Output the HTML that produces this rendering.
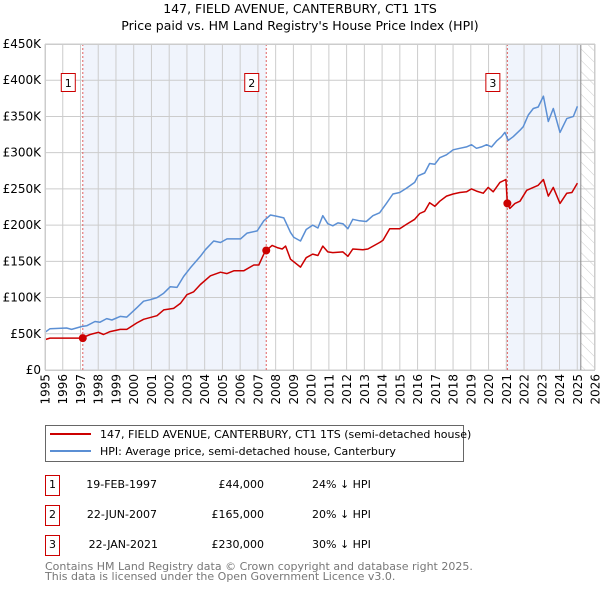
<!DOCTYPE html>
<html><head><meta charset="utf-8"><style>
body{margin:0;background:#fff;font-family:"DejaVu Sans","Liberation Sans",sans-serif;}
svg{display:block}
</style></head><body>
<svg id="chart" width="600" height="590" xmlns="http://www.w3.org/2000/svg" font-family="DejaVu Sans, Liberation Sans, sans-serif">
<defs><pattern id="hatch" width="8" height="8" patternUnits="userSpaceOnUse" patternTransform="rotate(-45)"><line x1="0" y1="0" x2="0" y2="8" stroke="#ccc" stroke-width="1"/></pattern></defs>
<text x="300" y="13" text-anchor="middle" font-size="12.5" fill="#000">147, FIELD AVENUE, CANTERBURY, CT1 1TS</text>
<text x="300" y="30" text-anchor="middle" font-size="12.5" fill="#000">Price paid vs. HM Land Registry's House Price Index (HPI)</text>
<g id="plot"></g>
<g>
<rect x="45.5" y="425.5" width="418" height="36" fill="#fff" stroke="#666"/>
<line x1="50" y1="434" x2="91" y2="434" stroke="#cc0000" stroke-width="2"/>
<text x="100" y="438" font-size="11">147, FIELD AVENUE, CANTERBURY, CT1 1TS (semi-detached house)</text>
<line x1="50" y1="451" x2="91" y2="451" stroke="#5b8fd4" stroke-width="2"/>
<text x="100" y="455" font-size="11">HPI: Average price, semi-detached house, Canterbury</text>
</g>
<g font-size="11">
<rect x="45.5" y="475.5" width="14" height="20" fill="#fff" stroke="#cc0000"/><text x="52.5" y="488" text-anchor="middle">1</text>
<text x="157" y="488" text-anchor="end">19-FEB-1997</text><text x="264" y="488" text-anchor="end">£44,000</text><text x="312" y="488">24% ↓ HPI</text>
<rect x="45.5" y="505.5" width="14" height="20" fill="#fff" stroke="#cc0000"/><text x="52.5" y="518" text-anchor="middle">2</text>
<text x="157" y="518" text-anchor="end">22-JUN-2007</text><text x="264" y="518" text-anchor="end">£165,000</text><text x="312" y="518">20% ↓ HPI</text>
<rect x="45.5" y="535.5" width="14" height="20" fill="#fff" stroke="#cc0000"/><text x="52.5" y="548" text-anchor="middle">3</text>
<text x="158" y="548" text-anchor="end">22-JAN-2021</text><text x="264" y="548" text-anchor="end">£230,000</text><text x="312" y="548">30% ↓ HPI</text>
</g>
<text x="45" y="570" font-size="11" fill="#777">Contains HM Land Registry data © Crown copyright and database right 2025.</text>
<text x="45" y="580" font-size="11" fill="#777">This data is licensed under the Open Government Licence v3.0.</text>
</svg>
<script>
const hpiYears=[1995.0,1995.28,1996.22,1996.5,1997.07,1997.35,1997.82,1998.1,1998.48,1998.77,1999.24,1999.61,2000.18,2000.56,2000.93,2001.31,2001.69,2002.06,2002.44,2002.81,2003.19,2003.76,2004.04,2004.51,2004.89,2005.26,2006.02,2006.39,2006.96,2007.33,2007.71,2008.09,2008.46,2008.84,2009.03,2009.4,2009.72,2010.09,2010.38,2010.66,2010.94,2011.22,2011.51,2011.79,2012.07,2012.35,2012.73,2013.11,2013.48,2013.86,2014.24,2014.61,2014.99,2015.37,2015.84,2016.03,2016.4,2016.68,2016.97,2017.25,2017.63,2018.0,2018.38,2018.76,2019.04,2019.32,2019.6,2019.89,2020.17,2020.45,2020.73,2020.92,2021.11,2021.39,2021.77,2021.96,2022.24,2022.52,2022.8,2023.09,2023.37,2023.65,2024.03,2024.41,2024.78,2025.01];
const hpiValues=[52,57,58,56,60,61,67,66,71,69,74,73,86,95,97,100,106,115,114,129,141,157,166,178,176,181,181,189,192,206,214,212,210,190,183,178,194,200,196,213,202,199,203,202,195,208,206,205,213,217,230,243,245,251,259,268,272,285,284,293,297,304,306,308,311,306,308,311,308,316,322,328,317,322,331,336,352,361,363,378,343,361,328,347,350,364];
const ppYears=[1995.0,1995.28,1997.07,1997.54,1998.01,1998.3,1998.67,1999.24,1999.61,2000.18,2000.56,2001.31,2001.69,2002.25,2002.63,2003.0,2003.38,2003.76,2004.32,2004.89,2005.26,2005.64,2006.2,2006.77,2007.05,2007.33,2007.52,2007.8,2008.09,2008.37,2008.56,2008.84,2009.4,2009.72,2010.09,2010.38,2010.66,2010.94,2011.22,2011.79,2012.07,2012.35,2012.92,2013.2,2013.86,2014.05,2014.43,2014.99,2015.37,2015.84,2016.12,2016.4,2016.68,2016.97,2017.25,2017.63,2018.0,2018.38,2018.76,2019.04,2019.32,2019.7,2019.98,2020.26,2020.64,2020.98,2021.06,2021.2,2021.49,2021.77,2022.15,2022.52,2022.8,2023.09,2023.37,2023.65,2024.03,2024.41,2024.7,2025.01];
const ppValues=[42,44,44,49,52,49,53,56,56,65,70,75,83,85,92,104,108,118,130,135,133,137,137,145,145,160,166,172,169,167,171,153,142,155,160,158,171,163,162,163,157,167,166,167,176,179,195,195,201,208,216,219,231,226,233,240,243,245,246,250,247,244,252,246,259,263,230,223,230,233,248,252,255,263,240,252,230,244,245,258];
const saleYears=[1997.13,2007.47,2021.06];
const saleValues=[44,165,230];
const saleLabels=["1","2","3"];
const yTicks=[0,50,100,150,200,250,300,350,400,450];
const yTickLabels=["£0","£50K","£100K","£150K","£200K","£250K","£300K","£350K","£400K","£450K"];
const xTicks=[1995,1996,1997,1998,1999,2000,2001,2002,2003,2004,2005,2006,2007,2008,2009,2010,2011,2012,2013,2014,2015,2016,2017,2018,2019,2020,2021,2022,2023,2024,2025,2026];
const dataEnd=2025.2;

const X0=45,X1=595,Y0=370,Y1=44;
const xs=y=>X0+(y-1995)/(2026-1995)*(X1-X0);
const ys=v=>Y0-v/450*(Y0-Y1);
const NS="http://www.w3.org/2000/svg";
const g=document.getElementById('plot');
function mk(t,a){const e=document.createElementNS(NS,t);for(const k in a)e.setAttribute(k,a[k]);g.appendChild(e);return e;}

let e;
e=mk('rect',{x:xs(saleYears[0]),y:Y1,width:xs(saleYears[1])-xs(saleYears[0]),height:Y0-Y1,fill:'#f0f4fc'});


e=mk('rect',{x:xs(saleYears[2]),y:Y1,width:xs(dataEnd)-xs(saleYears[2]),height:Y0-Y1,fill:'#f0f4fc'});


e=mk('rect',{x:xs(dataEnd),y:Y1,width:X1-xs(dataEnd),height:Y0-Y1,fill:'url(#hatch)'});



yTicks.forEach((v,i)=>{
 e=mk('line',{x1:X0,x2:X1,y1:ys(v),y2:ys(v),stroke:'#ccc','stroke-width':1});
 
 
 e=mk('text',{x:X0-4,y:ys(v)+4,'text-anchor':'end','font-size':12});
 e.textContent=yTickLabels[i];
 
 
});
xTicks.forEach(t=>{
 e=mk('line',{x1:xs(t),x2:xs(t),y1:Y1,y2:Y0,stroke:'#ccc','stroke-width':1});
 
 
 const tx=xs(t)+4.5, ty=374;
 e=mk('text',{x:tx,y:ty,'text-anchor':'end','font-size':12,transform:'rotate(-90 '+tx+' '+ty+')'});
 e.textContent=t;
 
 
});
e=mk('line',{x1:xs(dataEnd),x2:xs(dataEnd),y1:Y1,y2:Y0,stroke:'#888','stroke-width':1});



saleYears.forEach((yr,i)=>{
 e=mk('line',{x1:xs(yr),x2:xs(yr),y1:Y1,y2:Y0,stroke:'#e06060','stroke-width':1,'stroke-dasharray':'2,2'});
 
 
});

function path(xa,va,col,name){
 const d=xa.map((x,i)=>(i?'L':'M')+xs(x).toFixed(1)+','+ys(va[i]).toFixed(1)).join('');
 const p=mk('path',{d:d,fill:'none',stroke:col,'stroke-width':1.5,'stroke-linejoin':'round'});
 
 
}
path(hpiYears,hpiValues,'#5b8fd4','hpi-line');
path(ppYears,ppValues,'#cc0000','price-paid-line');

saleYears.forEach((yr,i)=>{
 e=mk('circle',{cx:xs(yr),cy:ys(saleValues[i]),r:4,fill:'#cc0000'});
 
 
 e=mk('rect',{x:xs(yr)-21.5,y:73.5,width:14,height:18,fill:'#fff',stroke:'#cc0000'});
 
 
 e=mk('text',{x:xs(yr)-14.5,y:87,'text-anchor':'middle','font-size':11});
 e.textContent=saleLabels[i];
 
 
});
e=mk('rect',{x:X0+0.5,y:Y1+0.5,width:X1-X0-1,height:Y0-Y1,fill:'none',stroke:'#ccc'});


</script>
</body></html>
